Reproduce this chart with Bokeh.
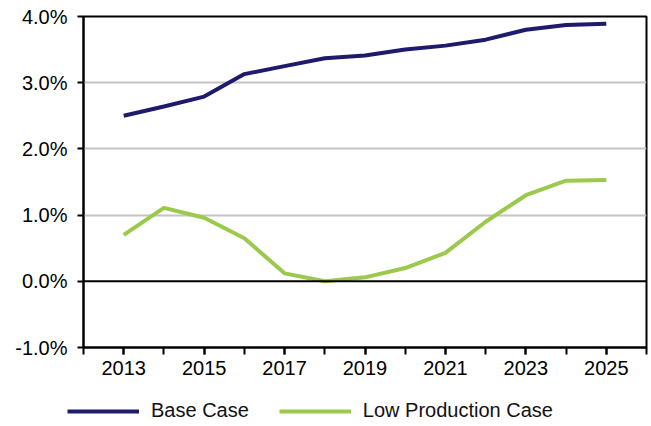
from bokeh.plotting import figure
from bokeh.models import FixedTicker, Span, Legend, LegendItem, Range1d
from bokeh.layouts import column
from bokeh.embed import file_html
from bokeh.resources import INLINE

years = [2013, 2014, 2015, 2016, 2017, 2018, 2019, 2020, 2021, 2022, 2023, 2024, 2025]
base_case = [2.50, 2.64, 2.79, 3.13, 3.25, 3.37, 3.41, 3.50, 3.56, 3.65, 3.80, 3.87, 3.89]
low_production = [0.70, 1.11, 0.96, 0.65, 0.12, 0.00, 0.06, 0.20, 0.43, 0.90, 1.30, 1.52, 1.53]
series_names = ["Base Case", "Low Production Case"]
y_ticks = [-1, 0, 1, 2, 3, 4]
y_tick_labels = ["-1.0%", "0.0%", "1.0%", "2.0%", "3.0%", "4.0%"]
x_label_years = [2013, 2015, 2017, 2019, 2021, 2023, 2025]
x_minor_years = list(range(2012, 2027))

FONT = "Liberation Sans"
BASE_COLOR = "#1e1a6c"
LOW_COLOR = "#9bc94c"

p = figure(width=648, height=392, output_backend="svg", toolbar_location=None,
           x_range=Range1d(2012, 2026), y_range=Range1d(-1, 4),
           min_border_left=83, min_border_right=2, min_border_top=16, min_border_bottom=45)
p.background_fill_color = "white"
p.border_fill_color = "white"
p.outline_line_color = "black"
p.outline_line_width = 2

# grid
p.xgrid.visible = False
p.ygrid.ticker = FixedTicker(ticks=[1, 2, 3])
p.ygrid.grid_line_color = "#c4c4c4"
p.ygrid.grid_line_width = 2
p.add_layout(Span(location=0, dimension="width", line_color="black", line_width=2))

# y axis
p.yaxis.ticker = FixedTicker(ticks=y_ticks)
p.yaxis.major_label_overrides = {t: l for t, l in zip(y_ticks, y_tick_labels)}
p.yaxis.axis_line_color = "black"
p.yaxis.axis_line_width = 2
p.yaxis.major_tick_line_color = "black"
p.yaxis.major_tick_line_width = 2
p.yaxis.major_tick_in = 0
p.yaxis.major_tick_out = 6
p.yaxis.minor_tick_line_color = None
p.yaxis.major_label_standoff = 10
p.yaxis.major_label_text_font = FONT
p.yaxis.major_label_text_font_size = "20px"
p.yaxis.major_label_text_color = "black"

# x axis
p.xaxis.ticker = FixedTicker(ticks=x_label_years, minor_ticks=x_minor_years)
p.xaxis.axis_line_color = "black"
p.xaxis.axis_line_width = 2
p.xaxis.major_tick_line_color = "black"
p.xaxis.major_tick_line_width = 2
p.xaxis.major_tick_in = 0
p.xaxis.major_tick_out = 7
p.xaxis.minor_tick_line_color = "black"
p.xaxis.minor_tick_line_width = 2
p.xaxis.minor_tick_in = 0
p.xaxis.minor_tick_out = 7
p.xaxis.major_label_standoff = 6
p.xaxis.major_label_text_font = FONT
p.xaxis.major_label_text_font_size = "20px"
p.xaxis.major_label_text_color = "black"

p.line(years, base_case, line_color=BASE_COLOR, line_width=4)
p.line(years, low_production, line_color=LOW_COLOR, line_width=4)

# legend strip below the chart
leg = figure(width=648, height=32, output_backend="svg", toolbar_location=None,
             x_axis_location=None, y_axis_location=None,
             x_range=Range1d(2012, 2026), y_range=Range1d(-1, 4),
             min_border_left=0, min_border_right=0, min_border_top=0, min_border_bottom=0)
if "frame_align" in leg.properties():
    leg.frame_align = False
    p.frame_align = False
leg.outline_line_color = None
leg.xgrid.visible = False
leg.ygrid.visible = False
lr_base = leg.line(years, base_case, line_color=BASE_COLOR, line_width=4, visible=False)
lr_low = leg.line(years, low_production, line_color=LOW_COLOR, line_width=4, visible=False)

legend = Legend(items=[LegendItem(label=series_names[0], renderers=[lr_base]),
                       LegendItem(label=series_names[1], renderers=[lr_low])],
                orientation="horizontal", location=(67, 2),
                glyph_width=72, glyph_height=20, label_height=20,
                label_standoff=12, spacing=30, padding=0, margin=0,
                border_line_color=None, background_fill_alpha=0,
                label_text_font=FONT, label_text_font_size="20px",
                label_text_color="#111111")
leg.add_layout(legend, "center")

open("out.html", "w").write(file_html(column(p, leg, spacing=0), INLINE))
